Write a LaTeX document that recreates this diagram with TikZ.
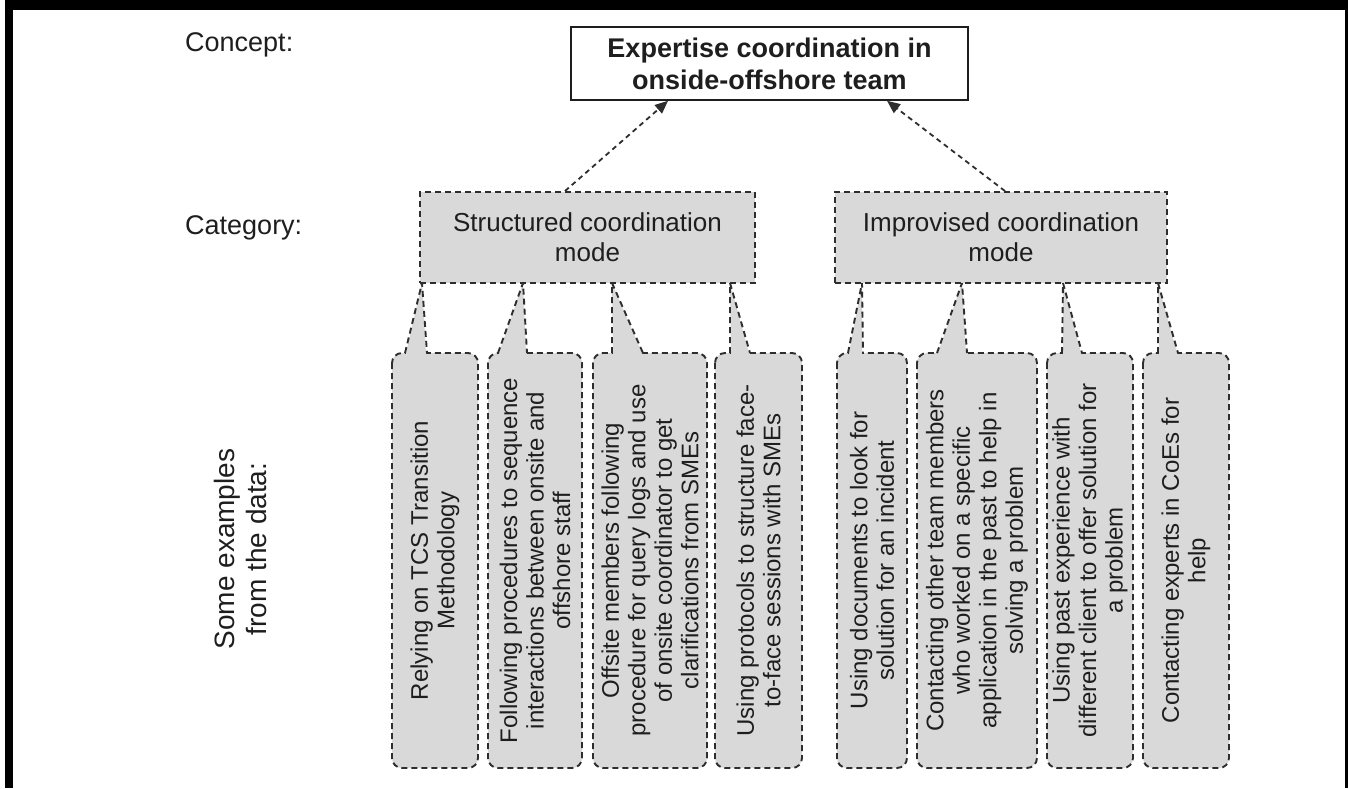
\documentclass[tikz,border=0pt]{standalone}
\usepackage{fontspec}
\setmainfont{Liberation Sans}
\usetikzlibrary{arrows.meta}
\definecolor{txt}{HTML}{1E1E1E}
\definecolor{boxgray}{HTML}{D9D9D9}
\definecolor{dashc}{HTML}{2E2E2E}
\newcommand{\ptrto}[4]{% #1 box name, #2 tip x, #3 base left x, #4 base right x
  \coordinate (#1t) at (#2,283);
  \fill[boxgray] (#3+1,357) -- (#3+1,353) -- (#1t) -- (#4-1,353) -- (#4-1,357) -- cycle;
  \draw[ptr] (#3,353) -- (#1t) -- (#4,353);
}
\begin{document}
\begin{tikzpicture}[x=1pt,y=-1pt,
  lbl/.style={anchor=west, text=txt, font=\fontsize{27}{31}\selectfont, inner sep=0},
  concept/.style={draw=txt, line width=1.6pt, fill=white, minimum width=397pt, minimum height=73pt, align=center, text=txt, font=\fontsize{27}{32}\selectfont\bfseries, inner sep=0},
  catbox/.style={draw=dashc, dash pattern=on 6pt off 4pt, line width=1.9pt, fill=boxgray, minimum height=91pt, align=center, text=txt, font=\fontsize{26}{30}\selectfont, inner sep=0},
  exbox/.style={draw=dashc, dash pattern=on 6pt off 4pt, line width=1.9pt, fill=boxgray, rounded corners=10pt, rotate=90, minimum width=415pt, align=center, text=txt, font=\fontsize{24}{26.5}\selectfont, inner sep=0},
  ptr/.style={draw=dashc, dash pattern=on 6pt off 4pt, line width=1.9pt},
  arr/.style={draw=dashc, dash pattern=on 5pt off 4pt, line width=1.8pt, -{Triangle[length=13pt,width=11pt]}},
]
\useasboundingbox (0,0) rectangle (1348,788);
\fill[white] (0,0) rectangle (1348,788);
% frame
\fill[black] (5,0) rectangle (1348,10);
\fill[black] (5,0) rectangle (13,788);
\fill[black] (1345,0) rectangle (1348,788);

% row labels
\node[lbl] (lc) at (185,45) {Concept:};
\node[lbl] (lk) at (185,228) {Category:};
\node[text=txt, font=\fontsize{28}{32}\selectfont, align=center, rotate=90, inner sep=0] (le) at (240,549) {Some examples\\from the data:};

% concept
\node[concept] (c) at (769.5,63.5) {Expertise coordination in\\onside-offshore team};

% example boxes
\node[exbox, minimum height=86pt]  (b1) at (435,560.5)  {Relying on TCS Transition\\Methodology};
\node[exbox, minimum height=94pt]  (b2) at (535,560.5)  {Following procedures to sequence\\interactions between onsite and\\offshore staff};
\node[exbox, minimum height=114pt] (b3) at (650,560.5)  {Offsite members following\\procedure for query logs and use\\of onsite coordinator to get\\clarifications from SMEs};
\node[exbox, minimum height=87pt]  (b4) at (758.5,560.5){Using protocols to structure face-\\to-face sessions with SMEs};
\node[exbox, minimum height=70pt]  (b5) at (872,560.5)  {Using documents to look for\\solution for an incident};
\node[exbox, minimum height=120pt] (b6) at (977,560.5)  {Contacting other team members\\who worked on a specific\\application in the past to help in\\solving a problem};
\node[exbox, minimum height=86pt]  (b7) at (1090,560.5) {Using past experience with\\different client to offer solution for\\a problem};
\node[exbox, minimum height=86pt]  (b8) at (1186,560.5) {Contacting experts in CoEs for\\help};

% pointers
\ptrto{b1}{422}{405}{427}
\ptrto{b2}{523}{498}{527}
\ptrto{b3}{612}{612}{643}
\ptrto{b4}{730}{730}{750}
\ptrto{b5}{862}{848}{863}
\ptrto{b6}{962}{937}{967}
\ptrto{b7}{1063}{1062}{1082}
\ptrto{b8}{1158}{1158}{1178}

% categories
\node[catbox, minimum width=335pt] (s) at (587.5,237.5) {Structured coordination\\mode};
\node[catbox, minimum width=332pt] (i) at (1001,237.5) {Improvised coordination\\mode};

% arrows
\draw[arr] ([xshift=-22.5pt]s.north) -- ([xshift=-101.5pt]c.south);
\draw[arr] ([xshift=4pt]i.north) -- ([xshift=117.5pt]c.south);
\end{tikzpicture}
\end{document}
